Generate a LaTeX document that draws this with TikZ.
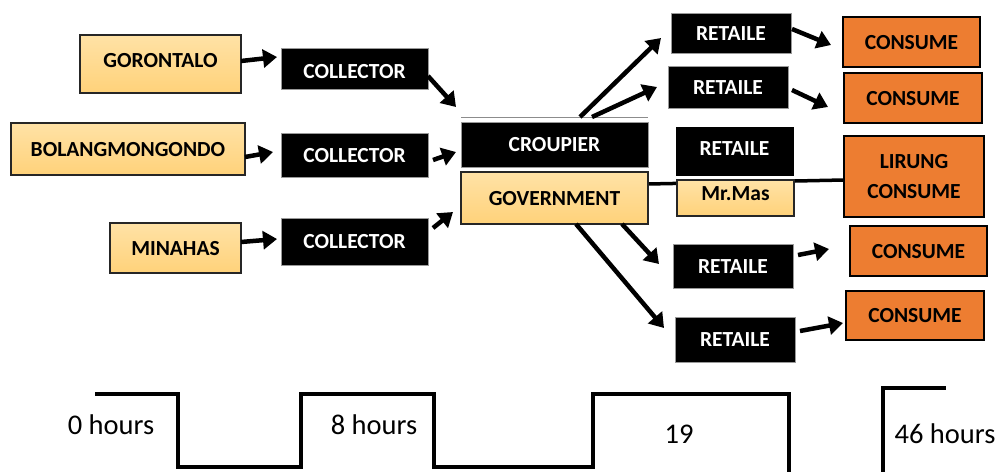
\documentclass[tikz,border=0pt]{standalone}
\usepackage{fontspec}
\setmainfont{Carlito}
\usetikzlibrary{arrows.meta}
\pgfdeclarelayer{bg}
\pgfsetlayers{bg,main}
\definecolor{lightA}{HTML}{FFE2A6}
\definecolor{lightB}{HTML}{FFD27A}
\definecolor{orng}{HTML}{ED7D31}
\begin{document}
\begin{tikzpicture}[x=1pt,y=-1pt,
  box/.style={rectangle,inner sep=0pt,outer sep=0pt,
    font=\bfseries\fontsize{21.5}{23}\selectfont,text height=14pt,text depth=0pt},
  lbox/.style={box,draw=black!85,line width=1.5pt,top color=lightA,bottom color=lightB},
  bbox/.style={box,fill=black,draw=black!40,line width=0.6pt,text=white},
  obox/.style={box,fill=orng,draw=black,line width=2.5pt},
  arr/.style={line width=4.5pt,-{Triangle[length=14pt,width=18pt]}},
  tline/.style={line width=3.5pt},
  tlabel/.style={inner sep=0pt,font=\fontsize{28.5}{30}\selectfont}]
\useasboundingbox (0,0) rectangle (998,471);

% left column
\node[lbox,minimum width=161pt,minimum height=58pt,text depth=8pt] (gor) at (160.5,64) {GORONTALO};
\node[lbox,minimum width=234pt,minimum height=52pt] (bol) at (128,149) {BOLANGMONGONDO};
\node[lbox,minimum width=131pt,minimum height=50pt] (min) at (175.5,248) {MINAHAS};

% collectors
\node[bbox,minimum width=147pt,minimum height=41pt,text height=20pt] (col1) at (354.5,68.5) {COLLECTOR};
\node[bbox,minimum width=147pt,minimum height=44pt] (col2) at (354.5,155) {COLLECTOR};
\node[bbox,minimum width=147pt,minimum height=47pt] (col3) at (354.5,241.5) {COLLECTOR};

% centre
\node[bbox,minimum width=187pt,minimum height=45pt] (crou) at (554.5,144.5) {CROUPIER};
\node[lbox,minimum width=187pt,minimum height=52pt] (gov) at (554.5,198) {GOVERNMENT};

% retailers
\node[bbox,minimum width=120pt,minimum height=40pt] (ret1) at (731,33) {RETAILE};
\node[bbox,minimum width=120pt,minimum height=42pt] (ret2) at (728,87) {RETAILE};
\node[lbox,minimum width=117pt,minimum height=36pt,text depth=10pt] (mrmas) at (735.5,198) {Mr.Mas};
\node[bbox,draw=white,line width=3pt,minimum width=121pt,minimum height=52pt,text depth=6pt] (ret3) at (734.5,151) {RETAILE};
\node[bbox,minimum width=120pt,minimum height=44pt] (ret4) at (733,266) {RETAILE};
\node[bbox,minimum width=120pt,minimum height=45pt] (ret5) at (735,339.5) {RETAILE};

% consumers
\node[obox,minimum width=137pt,minimum height=50pt] (con1) at (911.5,42) {CONSUME};
\node[obox,minimum width=138pt,minimum height=50pt] (con2) at (913,98) {CONSUME};
\node[obox,minimum width=140pt,minimum height=81pt,align=center,text height=,text depth=,
  font=\bfseries\fontsize{21.5}{30}\selectfont] (lir) at (914,176.5) {LIRUNG\\CONSUME};
\node[obox,minimum width=137pt,minimum height=50pt] (con4) at (918.5,251) {CONSUME};
\node[obox,minimum width=138pt,minimum height=49pt] (con5) at (915,315.5) {CONSUME};

% background layer: white page and the line behind Mr.Mas
\begin{pgfonlayer}{bg}
  \fill[white] (0,0) rectangle (998,471);
  \draw[line width=3.5pt] ([yshift=14pt]gov.east) -- ([yshift=-3.5pt]lir.west);
\end{pgfonlayer}

% thin line above croupier
\draw[black!45,line width=1pt] ([yshift=5pt]crou.north west) -- ([yshift=5pt]crou.north east);

% arrows
\draw[arr] ([yshift=3pt]gor.east) -- ([xshift=-4pt,yshift=-9pt]col1.north west);
\draw[arr] ([yshift=-8pt]bol.east) -- ([xshift=-8pt,yshift=3pt]col2.west);
\draw[arr] ([yshift=6pt]min.east) -- ([xshift=-4pt,yshift=2.5pt]col3.west);
\draw[arr] ([yshift=-7.5pt]col1.east) -- ([xshift=-5pt,yshift=15pt]crou.north west);
\draw[arr] ([xshift=5pt,yshift=-5pt]col2.east) -- ([xshift=-5pt,yshift=-7.5pt]crou.west);
\draw[arr] ([xshift=5pt,yshift=13.5pt]col3.east) -- ([xshift=-8pt,yshift=-14pt]gov.west);
\draw[arr] ([xshift=25.5pt,yshift=5pt]crou.north) -- ([xshift=-10pt,yshift=-5pt]ret1.west);
\draw[arr] ([xshift=37.5pt,yshift=5pt]crou.north) -- ([xshift=-11pt]ret2.west);
\draw[arr] ([xshift=1pt,yshift=4pt]ret1.east) -- ([xshift=-12pt,yshift=-3pt]con1.west);
\draw[arr] ([xshift=4pt,yshift=-3pt]ret2.east) -- ([xshift=-16pt,yshift=-9pt]con2.west);
\draw[arr] ([xshift=67.5pt]gov.south) -- ([xshift=-14pt,yshift=2pt]ret4.west);
\draw[arr] ([xshift=21.5pt]gov.south) -- ([xshift=-11pt,yshift=11.5pt]ret5.west);
\draw[arr] ([xshift=5pt,yshift=11pt]ret4.east) -- ([xshift=-21pt,yshift=2pt]con4.west);
\draw[arr] ([xshift=5pt,yshift=8.5pt]ret5.east) -- ([xshift=-3pt,yshift=-7.5pt]con5.west);

% timeline
\coordinate (t0) at (95,394);
\coordinate (t1) at (178,394);
\coordinate (t2) at (178,467);
\coordinate (t3) at (301,467);
\coordinate (t4) at (301,394);
\coordinate (t5) at (434,394);
\coordinate (t6) at (434,467);
\coordinate (t7) at (593,467);
\coordinate (t8) at (593,394);
\coordinate (t9) at (789,394);
\coordinate (t10) at (789,474);
\draw[tline] (t0) -- (t1) -- (t2) -- (t3) -- (t4) -- (t5) -- (t6) -- (t7) -- (t8) -- (t9) -- (t10);
\coordinate (u0) at (883,474);
\coordinate (u1) at (883,388);
\coordinate (u2) at (946,388);
\draw[tline] (u0) -- (u1) -- (u2);
\node[tlabel] (h0) at (111,425) {0 hours};
\node[tlabel] (h8) at (374,425) {8 hours};
\node[tlabel] (h19) at (679,434) {19};
\node[tlabel] (h46) at (945,434) {46 hours};
\end{tikzpicture}
\end{document}
